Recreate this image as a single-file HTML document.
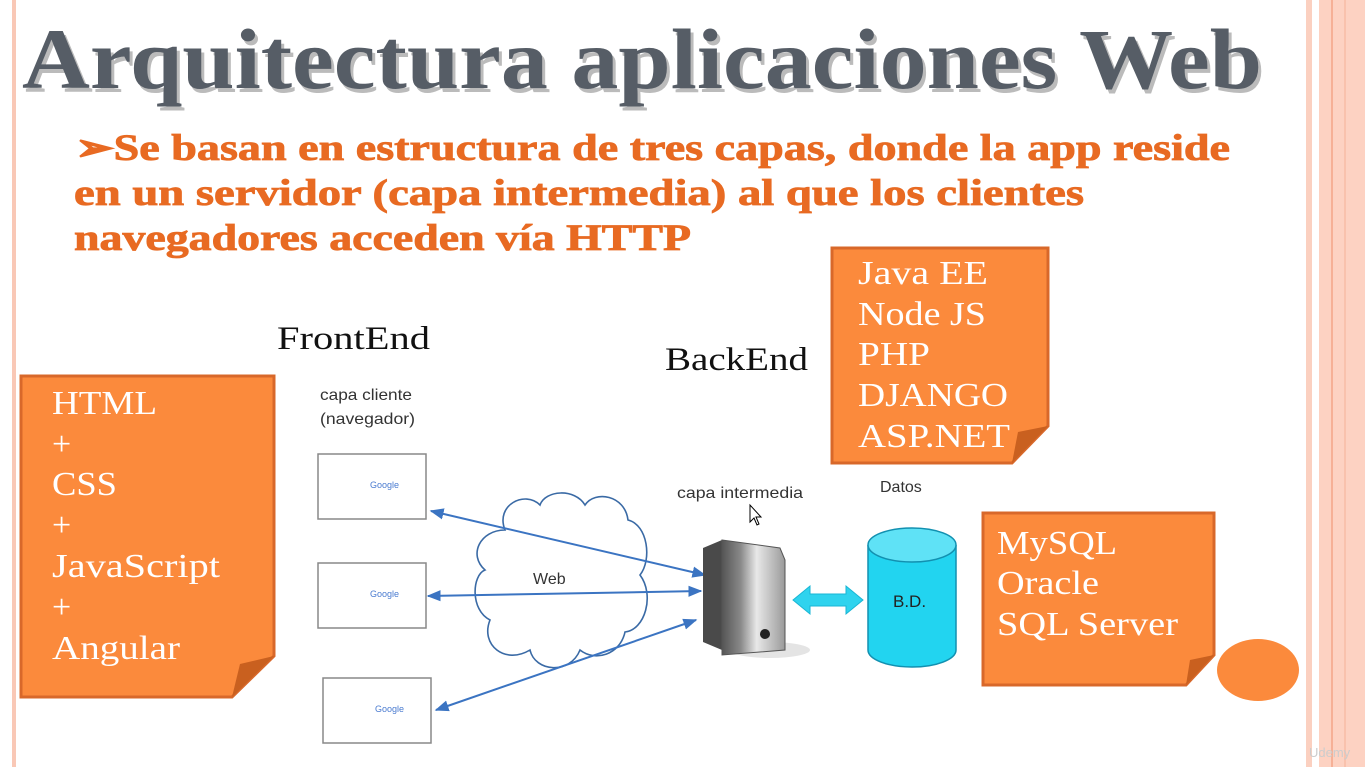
<!DOCTYPE html>
<html><head><meta charset="utf-8"><style>
html,body{margin:0;padding:0;width:1365px;height:767px;overflow:hidden;background:#fff}
svg{display:block}
</style></head><body>
<svg width="1365" height="767" viewBox="0 0 1365 767" xmlns="http://www.w3.org/2000/svg">
<defs>
<marker id="ah" viewBox="0 0 10 10" refX="9" refY="5" markerWidth="7" markerHeight="7" orient="auto-start-reverse"><path d="M0,1 L10,5 L0,9 z" fill="#3b74c2"/></marker>
<linearGradient id="srv" x1="0" x2="1"><stop offset="0" stop-color="#555"/><stop offset="0.3" stop-color="#8a8a8a"/><stop offset="0.55" stop-color="#e8e8e8"/><stop offset="1" stop-color="#9a9a9a"/></linearGradient>
</defs>
<rect x="12" y="0" width="4" height="767" fill="#f9c8b6"/>
<rect x="1306" y="0" width="6" height="767" fill="#fbd0c0"/>
<rect x="1319" y="0" width="46" height="767" fill="#fdd2c2"/>
<rect x="1331" y="0" width="2" height="767" fill="#f6b096"/>
<rect x="1344" y="0" width="2" height="767" fill="#f9c2ad"/>
<text x="22" y="88" font-family="Liberation Serif, serif" font-weight="bold" font-size="86" fill="#bbb" textLength="1240" lengthAdjust="spacingAndGlyphs" transform="translate(3,4)">Arquitectura aplicaciones Web</text>
<text x="22" y="88" font-family="Liberation Serif, serif" font-weight="bold" font-size="86" fill="#565d66" textLength="1240" lengthAdjust="spacingAndGlyphs">Arquitectura aplicaciones Web</text>
<g font-family="Liberation Serif, serif" font-weight="bold" font-size="37" fill="#e86a22" stroke="#e86a22" stroke-width="0.8">
<text x="75" y="160" textLength="1155" lengthAdjust="spacingAndGlyphs">➢Se basan en estructura de tres capas, donde la app reside</text>
<text x="74" y="205" textLength="1010" lengthAdjust="spacingAndGlyphs">en un servidor (capa intermedia) al que los clientes</text>
<text x="74" y="250" textLength="617" lengthAdjust="spacingAndGlyphs">navegadores acceden vía HTTP</text>
</g>
<g fill="#fb8a3c" stroke="#d8682a" stroke-width="3">
<path d="M21,376 H274 V656 L232,697 H21 Z"/>
<path d="M832,248 H1048 V426 L1012,463 H832 Z"/>
<path d="M983,513 H1214 V655 L1186,685 H983 Z"/>
</g>
<g fill="#c9601f">
<path d="M274,656 L232,697 L240,664 Z"/>
<path d="M1048,426 L1012,463 L1018,432 Z"/>
<path d="M1214,655 L1186,685 L1190,660 Z"/>
</g>
<ellipse cx="1258" cy="670" rx="41" ry="31" fill="#fb8a3c"/>
<g font-family="Liberation Serif, serif" font-size="34" fill="#fff" lengthAdjust="spacingAndGlyphs">
<text x="52" y="414" textLength="105" lengthAdjust="spacingAndGlyphs">HTML</text><text x="52" y="455">+</text><text x="52" y="495" textLength="65" lengthAdjust="spacingAndGlyphs">CSS</text><text x="52" y="536">+</text><text x="52" y="577" textLength="168" lengthAdjust="spacingAndGlyphs">JavaScript</text><text x="52" y="618">+</text><text x="52" y="659" textLength="128" lengthAdjust="spacingAndGlyphs">Angular</text>
<text x="858" y="284" textLength="130" lengthAdjust="spacingAndGlyphs">Java EE</text><text x="858" y="325" textLength="128" lengthAdjust="spacingAndGlyphs">Node JS</text><text x="858" y="365" textLength="72" lengthAdjust="spacingAndGlyphs">PHP</text><text x="858" y="406" textLength="150" lengthAdjust="spacingAndGlyphs">DJANGO</text><text x="858" y="447" textLength="152" lengthAdjust="spacingAndGlyphs">ASP.NET</text>
<text x="997" y="554" textLength="120" lengthAdjust="spacingAndGlyphs">MySQL</text><text x="997" y="594" textLength="102" lengthAdjust="spacingAndGlyphs">Oracle</text><text x="997" y="635" textLength="181" lengthAdjust="spacingAndGlyphs">SQL Server</text>
</g>
<g font-family="Liberation Serif, serif" font-size="33" fill="#111">
<text x="277" y="349" textLength="153" lengthAdjust="spacingAndGlyphs">FrontEnd</text><text x="665" y="370" textLength="143" lengthAdjust="spacingAndGlyphs">BackEnd</text>
</g>
<g font-family="Liberation Sans, sans-serif" font-size="16" fill="#333">
<text x="320" y="400" textLength="92" lengthAdjust="spacingAndGlyphs">capa cliente</text><text x="320" y="424" textLength="95" lengthAdjust="spacingAndGlyphs">(navegador)</text>
<text x="677" y="498" textLength="126" lengthAdjust="spacingAndGlyphs">capa intermedia</text><text x="880" y="492">Datos</text>
<text x="533" y="584">Web</text>
</g>
<g fill="#fff" stroke="#888" stroke-width="1.5">
<rect x="318" y="454" width="108" height="65"/><rect x="318" y="563" width="108" height="65"/><rect x="323" y="678" width="108" height="65"/>
</g>
<g font-family="Liberation Sans, sans-serif" font-size="9" fill="#4a7bd0">
<text x="370" y="488">Google</text><text x="370" y="597">Google</text><text x="375" y="712">Google</text>
</g>
<path d="M505,530 C495,505 525,490 540,505 C545,490 575,488 585,505 C595,490 625,495 628,520 C648,525 652,560 640,575 C655,595 645,630 625,632 C620,655 595,662 580,650 C570,675 535,672 530,650 C505,665 480,645 490,620 C470,610 472,575 485,570 C468,555 480,530 505,530 Z" fill="none" stroke="#3a6aa5" stroke-width="1.6"/>
<g stroke="#3b74c2" stroke-width="2" fill="none" marker-start="url(#ah)" marker-end="url(#ah)">
<line x1="431" y1="511" x2="705" y2="575"/><line x1="428" y1="596" x2="701" y2="591"/><line x1="436" y1="710" x2="696" y2="620"/>
</g>
<ellipse cx="770" cy="650" rx="40" ry="8" fill="#e4e4e4"/>
<path d="M703,548 L722,540 L722,650 L703,642 Z" fill="#4a4a4a"/>
<path d="M722,540 L780,548 L785,560 L785,650 L722,655 Z" fill="url(#srv)" stroke="#555" stroke-width="1"/>
<circle cx="765" cy="634" r="5" fill="#222"/>
<path d="M793,600 L810,586 L810,594 L846,594 L846,586 L863,600 L846,614 L846,606 L810,606 L810,614 Z" fill="#2fd3ee" stroke="#18b6d4"/>
<path d="M868,545 V650 A44,17 0 0 0 956,650 V545" fill="#22d4f0" stroke="#1290b0" stroke-width="1.5"/>
<ellipse cx="912" cy="545" rx="44" ry="17" fill="#5fe2f6" stroke="#1290b0" stroke-width="1.5"/>
<text x="893" y="607" font-family="Liberation Sans, sans-serif" font-size="17" fill="#222">B.D.</text>
<path d="M750,505 L750,522 L754,518 L757,525 L759,524 L756,517 L761,517 Z" fill="#fff" stroke="#000"/>
<text x="1309" y="757" font-family="Liberation Sans, sans-serif" font-size="13" fill="#ccc">Udemy</text>
</svg>
</body></html>
